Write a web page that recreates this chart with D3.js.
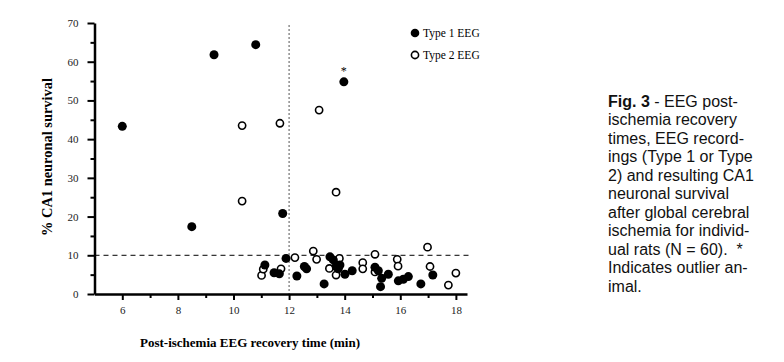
<!DOCTYPE html>
<html>
<head>
<meta charset="utf-8">
<script src="https://cdnjs.cloudflare.com/ajax/libs/d3/7.8.5/d3.min.js"></script>
<style>
  body { margin: 0; background: #fff; }
  svg { display: block; }
  .axis path, .axis line { stroke: #000; }
  .caption { font-family: "Liberation Sans", Arial, sans-serif; font-size: 16px; fill: #111; white-space: pre; }
</style>
</head>
<body>
<svg id="chart" width="784" height="362"></svg>
<script>
// Type 1 EEG (filled) and Type 2 EEG (open): [recovery time (min), % CA1 survival]
const type1 = [
  [6.0, 43.3], [8.5, 17.4], [9.3, 61.8], [10.8, 64.4], [11.77, 20.8], [13.97, 54.8],
  [11.13, 7.5], [11.46, 5.5], [11.65, 5.2], [11.89, 9.2], [12.28, 4.65], [12.55, 7.1],
  [12.63, 6.5], [13.26, 2.6], [13.47, 9.6], [13.59, 8.8], [13.69, 7.1], [13.77, 6.5],
  [13.83, 7.5], [14.01, 5.1], [14.27, 6.0], [15.09, 6.9], [15.21, 6.0], [15.33, 4.05],
  [15.29, 1.9], [15.57, 5.1], [15.93, 3.4], [16.11, 3.8], [16.29, 4.5], [16.74, 2.6],
  [17.17, 4.9]
];
const type2 = [
  [10.31, 43.5], [10.31, 24.0], [11.67, 44.1], [13.08, 47.5], [13.69, 26.3],
  [11.01, 4.8], [11.07, 6.4], [11.71, 6.5], [12.21, 9.4], [12.87, 11.1], [12.99, 8.95],
  [13.45, 6.6], [13.69, 4.9], [13.81, 9.2], [14.65, 8.1], [14.65, 6.5], [15.09, 10.25],
  [15.09, 5.7], [15.89, 8.95], [15.92, 7.2], [16.98, 12.1], [17.07, 7.1], [17.73, 2.3],
  [18.0, 5.4]
];
const outlier = [13.97, 54.8];
const xMajor = [6, 8, 10, 12, 14, 16, 18];
const xMinor = [7, 9, 11, 13, 15, 17];
const yMajor = [0, 10, 20, 30, 40, 50, 60, 70];
const yMinor = [5, 15, 25, 35, 45, 55, 65];
const cutoffTime = 12, cutoffSurvival = 10;

const captionLines = [
  ["Fig. 3", " - EEG post-"], ["", "ischemia recovery"], ["", "times, EEG record-"],
  ["", "ings (Type 1 or Type"], ["", "2) and resulting CA1"], ["", "neuronal survival"],
  ["", "after global cerebral"], ["", "ischemia for individ-"], ["", "ual rats (N = 60).  *"],
  ["", "Indicates outlier an-"], ["", "imal."]
];

const svg = d3.select("#chart");
const serif = "'Liberation Serif', 'Times New Roman', serif";

const x = d3.scaleLinear().domain([5, 18.4]).range([94.5, 467]);
const y = d3.scaleLinear().domain([0, 70]).range([294, 23]);

// reference lines
svg.append("line")
    .attr("x1", x(cutoffTime)).attr("x2", x(cutoffTime))
    .attr("y1", 25).attr("y2", y(0))
    .style("stroke", "#555").style("stroke-width", 1)
    .style("stroke-dasharray", "2,2");
svg.append("line")
    .attr("x1", x(5)).attr("x2", 470)
    .attr("y1", y(cutoffSurvival)).attr("y2", y(cutoffSurvival))
    .style("stroke", "#000").style("stroke-width", 1)
    .style("stroke-dasharray", "5,4");

// axes
svg.append("g").attr("class", "axis")
    .attr("transform", `translate(0,${y(0)})`)
    .call(d3.axisBottom(x).tickValues(xMajor).tickSize(6).tickSizeOuter(0).tickPadding(6));
svg.append("g").attr("class", "axis")
    .attr("transform", `translate(0,${y(0)})`)
    .call(d3.axisBottom(x).tickValues(xMinor).tickSize(4).tickSizeOuter(0).tickFormat(""))
    .select(".domain").remove();

svg.append("g").attr("class", "axis")
    .attr("transform", `translate(${x(5)},0)`)
    .call(d3.axisLeft(y).tickValues(yMajor).tickSize(7).tickSizeOuter(0).tickPadding(9));
svg.append("g").attr("class", "axis")
    .attr("transform", `translate(${x(5)},0)`)
    .call(d3.axisLeft(y).tickValues(yMinor).tickSize(4).tickSizeOuter(0).tickFormat(""))
    .select(".domain").remove();

svg.selectAll(".axis .domain").style("stroke-width", 2.5);
svg.selectAll(".axis .tick line").style("stroke-width", 2);
svg.selectAll(".axis text")
    .style("font-family", serif).style("font-size", "11px").style("fill", "#222");

// axis titles
svg.append("text")
    .attr("x", 250).attr("y", 347)
    .attr("text-anchor", "middle")
    .style("font-family", serif).style("font-size", "13px").style("font-weight", "bold")
    .text("Post-ischemia EEG recovery time (min)");
svg.append("text")
    .attr("transform", "translate(52,157) rotate(-90)")
    .attr("text-anchor", "middle")
    .attr("textLength", 158).attr("lengthAdjust", "spacingAndGlyphs")
    .style("font-family", serif).style("font-size", "14px").style("font-weight", "bold")
    .text("% CA1 neuronal survival");

// points
svg.append("g").selectAll("circle")
    .data(type2).enter().append("circle")
    .attr("cx", d => x(d[0])).attr("cy", d => y(d[1]))
    .attr("r", 3.6)
    .style("fill", "#fff").style("stroke", "#000").style("stroke-width", 1.6);
svg.append("g").selectAll("circle")
    .data(type1).enter().append("circle")
    .attr("cx", d => x(d[0])).attr("cy", d => y(d[1]))
    .attr("r", 4.5)
    .style("fill", "#000");

svg.append("text")
    .attr("x", x(outlier[0])).attr("y", y(outlier[1]) - 7)
    .attr("text-anchor", "middle")
    .style("font-family", serif).style("font-size", "12px")
    .text("*");

// legend
const legend = svg.append("g").attr("transform", "translate(415,33)");
const legendItems = [["Type 1 EEG", true], ["Type 2 EEG", false]];
legendItems.forEach((item, i) => {
    const g = legend.append("g").attr("transform", `translate(0,${i * 22})`);
    g.append("circle").attr("r", item[1] ? 4.3 : 3.6)
        .style("fill", item[1] ? "#000" : "#fff")
        .style("stroke", "#000").style("stroke-width", item[1] ? 0 : 1.6);
    g.append("text").attr("x", 8).attr("y", 4)
        .style("font-family", serif).style("font-size", "11.5px")
        .text(item[0]);
});

// caption
const cap = svg.append("text").attr("class", "caption");
captionLines.forEach((l, i) => {
    const t = cap.append("tspan").attr("x", 608).attr("y", 106.5 + i * 18.5);
    if (l[0]) t.append("tspan").style("font-weight", "bold").text(l[0]);
    t.append("tspan").text(l[1]);
});
</script>
</body>
</html>
